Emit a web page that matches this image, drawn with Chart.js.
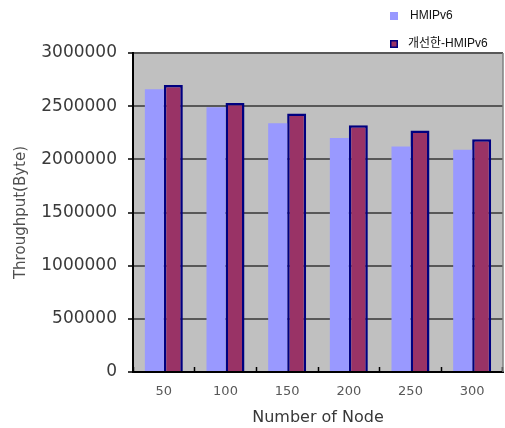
<!DOCTYPE html>
<html>
<head>
<meta charset="utf-8">
<script src="https://cdn.jsdelivr.net/npm/chart.js@4.4.1/dist/chart.umd.min.js"></script>
<style>
  html, body { margin: 0; padding: 0; background: #ffffff; }
  #wrap { width: 505px; height: 428px; }
</style>
</head>
<body>
<div id="wrap"><canvas id="c" width="505" height="428"></canvas></div>
<script>
// Throughput per number of nodes
const nodes = ['50', '100', '150', '200', '250', '300'];
const hmipv6 = [2660000, 2490000, 2340000, 2200000, 2120000, 2090000];
const improvedHmipv6 = [2700000, 2530000, 2430000, 2320000, 2270000, 2190000];
const seriesNames = ['HMIPv6', '개선한-HMIPv6'];
const yTicks = [0, 500000, 1000000, 1500000, 2000000, 2500000, 3000000];

// Grey plot background and right frame line
const plotBackground = {
  id: 'plotBackground',
  beforeDraw(chart) {
    const { ctx, chartArea: a } = chart;
    ctx.save();
    ctx.fillStyle = '#c0c0c0';
    ctx.fillRect(a.left, a.top, a.right - a.left, a.bottom - a.top);
    ctx.restore();
  },
  afterDraw(chart) {
    const { ctx, chartArea: a } = chart;
    ctx.save();
    ctx.strokeStyle = '#808080';
    ctx.lineWidth = 1.5;
    ctx.beginPath();
    ctx.moveTo(a.right, a.top);
    ctx.lineTo(a.right, a.bottom);
    ctx.stroke();
    ctx.restore();
  }
};

// Stacked legend in the top-right corner
const cornerLegend = {
  id: 'cornerLegend',
  afterDraw(chart) {
    const { ctx } = chart;
    const rows = [16, 44];
    ctx.save();
    chart.data.datasets.forEach((ds, i) => {
      const y = rows[i];
      ctx.fillStyle = ds.backgroundColor;
      ctx.fillRect(390, y - 4, 8, 8);
      if (ds.borderWidth) {
        ctx.strokeStyle = ds.borderColor;
        ctx.lineWidth = 1.5;
        ctx.strokeRect(390.75, y - 3.25, 6.5, 6.5);
      }
      ctx.fillStyle = '#111111';
      ctx.font = '12px "Liberation Sans", "Noto Sans CJK KR", Arial, sans-serif';
      ctx.textBaseline = 'middle';
      ctx.textAlign = 'left';
      ctx.fillText(ds.label, i === 0 ? 410 : 408, y);
    });
    ctx.restore();
  }
};

new Chart(document.getElementById('c'), {
  type: 'bar',
  data: {
    labels: nodes,
    datasets: [
      {
        label: seriesNames[0],
        data: hmipv6,
        backgroundColor: '#9999ff',
        borderWidth: 0
      },
      {
        label: seriesNames[1],
        data: improvedHmipv6,
        backgroundColor: '#993366',
        borderColor: '#000080',
        borderWidth: 2.5,
        borderSkipped: 'start'
      }
    ]
  },
  plugins: [plotBackground, cornerLegend],
  options: {
    responsive: false,
    animation: false,
    devicePixelRatio: 1,
    layout: { padding: { top: 53, right: 2, left: 0, bottom: 0 } },
    datasets: { bar: { categoryPercentage: 0.616, barPercentage: 1.0 } },
    plugins: {
      legend: { display: false },
      tooltip: { enabled: false }
    },
    scales: {
      x: {
        grid: {
          drawOnChartArea: false,
          drawTicks: true,
          tickLength: -5,
          tickColor: '#000000',
          tickWidth: 1.5
        },
        border: { color: '#000000', width: 2 },
        ticks: {
          color: '#585858',
          padding: 17,
          font: { family: '"DejaVu Sans", sans-serif', size: 13 }
        },
        title: {
          display: true,
          text: 'Number of Node',
          color: '#383838',
          font: { family: '"DejaVu Sans", sans-serif', size: 16 },
          padding: { top: 0, bottom: 1 }
        },
        afterFit(scale) { scale.height = 56; }
      },
      y: {
        min: 0,
        max: 3000000,
        afterBuildTicks(scale) { scale.ticks = yTicks.map(v => ({ value: v })); },
        grid: {
          color: '#585858',
          lineWidth: 2,
          tickLength: 5,
          tickColor: '#000000',
          tickWidth: 1.5
        },
        border: { color: '#000000', width: 2 },
        ticks: {
          color: '#3a3a3a',
          padding: 11,
          font: { family: '"DejaVu Sans", sans-serif', size: 17 },
          callback: v => String(v)
        },
        title: {
          display: true,
          text: 'Throughput(Byte)',
          color: '#505050',
          font: { family: '"DejaVu Sans", sans-serif', size: 15 },
          padding: { top: 12, bottom: 0 }
        },
        afterFit(scale) { scale.width = 133; }
      }
    }
  }
});
</script>
</body>
</html>
